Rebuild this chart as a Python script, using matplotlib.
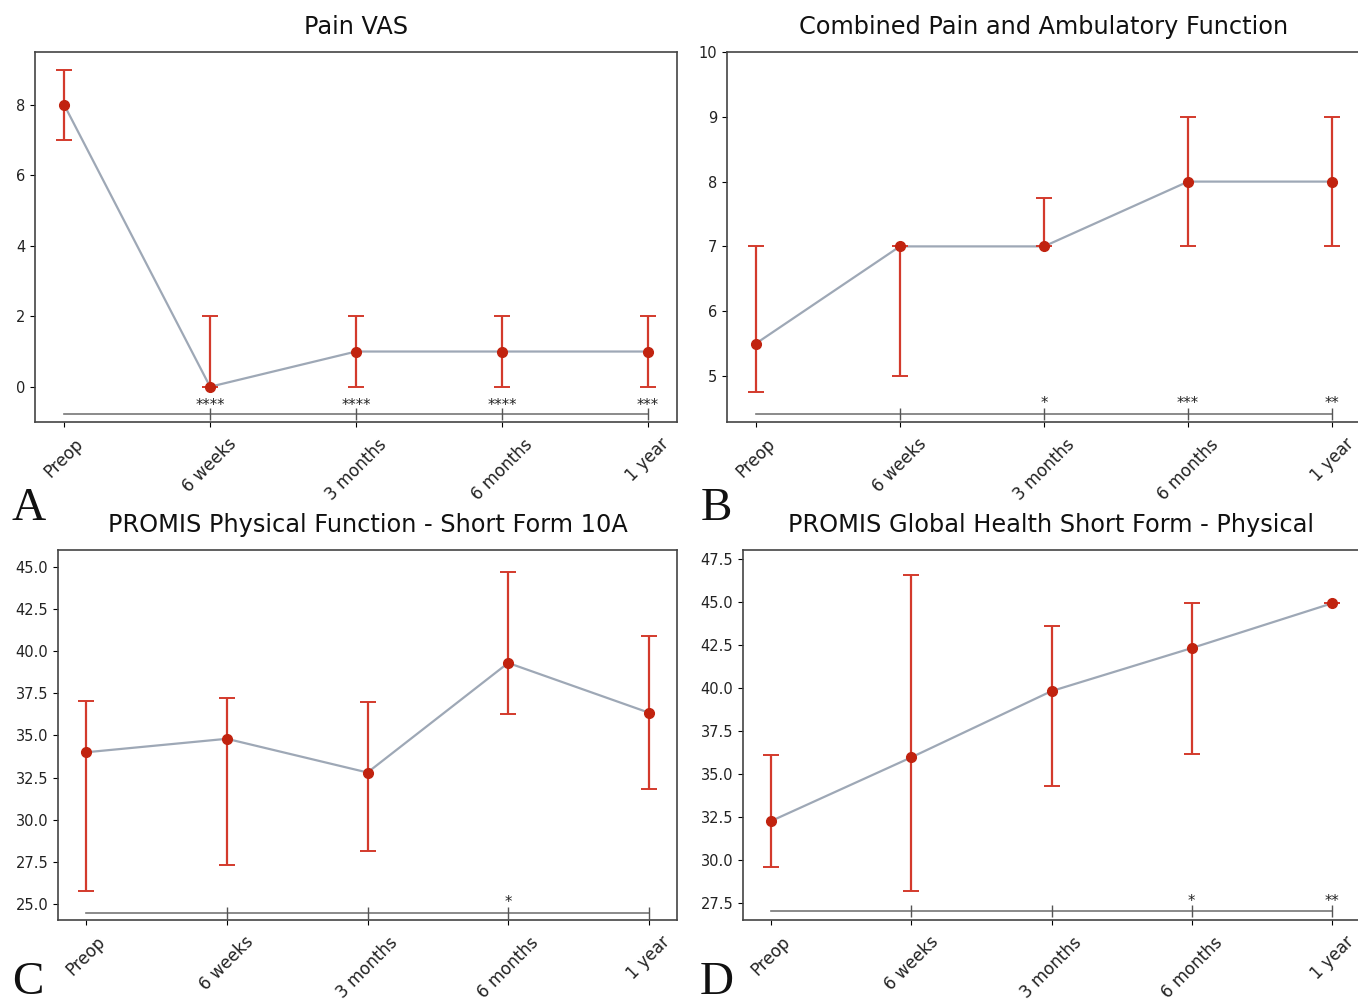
import matplotlib
matplotlib.use("Agg")
import matplotlib.pyplot as plt
import numpy as np

timepoints = ["Preop", "6 weeks", "3 months", "6 months", "1 year"]

# panel A - Pain VAS
vas_mid = [8, 0, 1, 1, 1]
vas_low = [7, 0, 0, 0, 0]
vas_high = [9, 2, 2, 2, 2]
vas_stars = ["", "****", "****", "****", "***"]

# panel B - combined pain and ambulatory function
comb_mid = [5.5, 7, 7, 8, 8]
comb_low = [4.75, 5, 7, 7, 7]
comb_high = [7, 7, 7.75, 9, 9]
comb_stars = ["", "", "*", "***", "**"]

# panel C - PROMIS PF 10A
pf_mid = [34.0, 34.8, 32.8, 39.3, 36.35]
pf_low = [25.75, 27.3, 28.15, 36.3, 31.8]
pf_high = [37.05, 37.2, 37.0, 44.7, 40.9]
pf_stars = ["", "", "", "*", ""]

# panel D - PROMIS global health physical
gh_mid = [32.25, 35.95, 39.8, 42.3, 44.9]
gh_low = [29.6, 28.2, 34.3, 36.15, 44.9]
gh_high = [36.1, 46.55, 43.6, 44.9, 44.9]
gh_stars = ["", "", "", "*", "**"]

W, H = 1358, 1005
fig = plt.figure(figsize=(W / 100, H / 100), dpi=100)

LINE_C = "#9ea8b6"
RED = "#d33a2c"
DOT = "#c1230f"


def make_ax(left, top, right, bottom):
    return fig.add_axes([left / W, 1 - bottom / H, (right - left) / W, (bottom - top) / H])


def panel(ax, title, mid, low, high, stars, ylim, yticks, fmt, bar_y, star_y):
    x = np.arange(len(timepoints))
    mid = np.array(mid)
    err = [mid - np.array(low), np.array(high) - mid]
    ax.plot(x, mid, color=LINE_C, lw=1.6, zorder=2)
    ax.errorbar(x, mid, yerr=err, fmt="none", ecolor=RED, elinewidth=1.6,
                capsize=6, capthick=1.4, zorder=3)
    ax.plot(x, mid, "o", color=DOT, ms=7, zorder=4)

    # significance bar vs preop
    ax.plot(x, [bar_y] * len(x), color="#777777", lw=1.2, zorder=1)
    ax.plot(x[1:], [bar_y] * (len(x) - 1), "|", color="#555555", ms=8, mew=1.0)
    for xi, s in zip(x, stars):
        if s:
            ax.text(xi, star_y, s, ha="center", va="center", fontsize=10.5, color="#222222")

    ax.set_xlim(-0.2, 4.2)
    ax.set_ylim(*ylim)
    ax.set_yticks(yticks)
    ax.set_yticklabels([fmt.format(v) for v in yticks], fontsize=10.5, color="#222222")
    ax.set_xticks(x)
    ax.set_xticklabels(timepoints, rotation=45, fontsize=12, color="#222222")
    ax.tick_params(axis="x", pad=6)
    ax.set_title(title, fontsize=17.3, pad=13, color="#111111")
    for sp in ax.spines.values():
        sp.set_color("#444444")
        sp.set_linewidth(1.2)


axA = make_ax(35, 52, 677, 422)
panel(axA, "Pain VAS", vas_mid, vas_low, vas_high, vas_stars,
      (-1.0, 9.5), [0, 2, 4, 6, 8], "{:.0f}", -0.76, -0.53)

axB = make_ax(727, 52, 1361, 422)
panel(axB, "Combined Pain and Ambulatory Function", comb_mid, comb_low, comb_high, comb_stars,
      (4.29, 10.0), [5, 6, 7, 8, 9, 10], "{:.0f}", 4.42, 4.575)

axC = make_ax(58, 550, 677, 920)
panel(axC, "PROMIS Physical Function - Short Form 10A", pf_mid, pf_low, pf_high, pf_stars,
      (24.05, 46.0), np.arange(25, 45.1, 2.5), "{:.1f}", 24.49, 25.08)

axD = make_ax(743, 550, 1360, 920)
panel(axD, "PROMIS Global Health Short Form - Physical", gh_mid, gh_low, gh_high, gh_stars,
      (26.5, 48.0), np.arange(27.5, 47.6, 2.5), "{:.1f}", 27.0, 27.56)

for letter, px, py, va in [("A", 12, 520, "baseline"), ("B", 701, 520, "baseline"),
                           ("C", 12, 1004, "bottom"), ("D", 700, 1004, "bottom")]:
    fig.text(px / W, 1 - py / H, letter, fontsize=34, family="Liberation Serif",
             ha="left", va=va, color="#111111")

fig.savefig("out.png", dpi=100, facecolor="white")
